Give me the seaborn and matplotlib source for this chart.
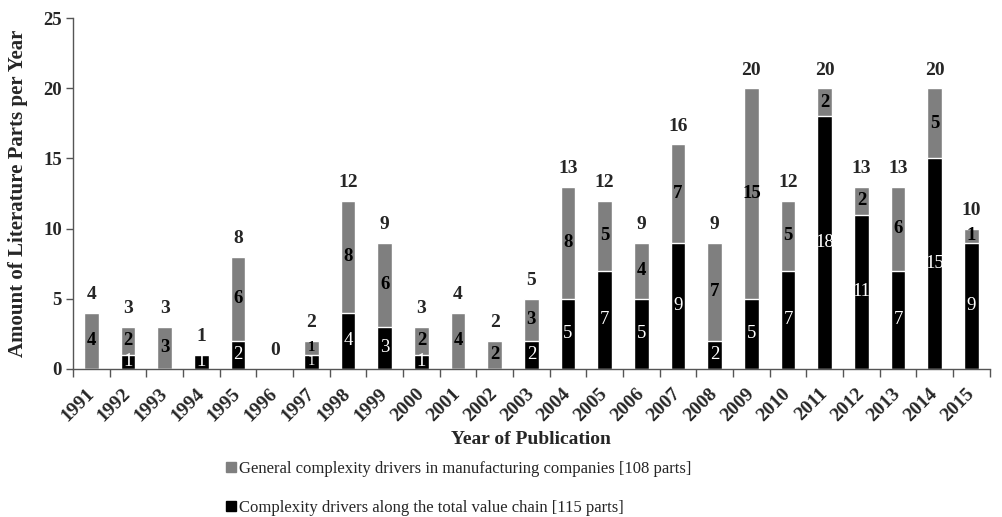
import matplotlib
matplotlib.use("Agg")
import matplotlib.pyplot as plt
import seaborn as sns
import numpy as np
import pandas as pd
from matplotlib.lines import Line2D
from matplotlib.ticker import FixedLocator

years = [str(y) for y in range(1991, 2016)]
value_chain = [0, 1, 0, 1, 2, 0, 1, 4, 3, 1, 0, 0, 2, 5, 7, 5, 9, 2, 5, 7, 18, 11, 7, 15, 9]
general = [4, 2, 3, 0, 6, 0, 1, 8, 6, 2, 4, 2, 3, 8, 5, 4, 7, 7, 15, 5, 2, 2, 6, 5, 1]
label_general = "General complexity drivers in manufacturing companies [108 parts]"
label_chain = "Complexity drivers along the total value chain [115 parts]"

sns.set_theme(style="white")
plt.rcParams['font.family'] = ['Liberation Serif', 'DejaVu Serif']

total = [a + b for a, b in zip(value_chain, general)]
df = pd.DataFrame({"year": years, "chain": value_chain, "general": general, "total": total})

fig = plt.figure(figsize=(10.03, 5.17), dpi=100)
ax = fig.add_axes([0.0728, 0.2863, 0.914, 0.6787])

GRAY = "#7f7f7f"
sns.barplot(data=df, x="year", y="total", color=GRAY, width=0.4, saturation=1, ax=ax)
sns.barplot(data=df, x="year", y="chain", color="black", width=0.4, saturation=1, ax=ax)

ax.set_ylim(0, 25)
ax.set_xlim(-0.5, len(years) - 0.5)
ax.set_yticks([0, 5, 10, 15, 20, 25])
for s in ["top", "right"]:
    ax.spines[s].set_visible(False)
for s in ["left", "bottom"]:
    ax.spines[s].set_color("#555555")
    ax.spines[s].set_linewidth(1.0)

ax.tick_params(axis="y", which="major", length=5, width=1, color="#555555", direction="out", left=True, pad=3)
ax.tick_params(axis="x", which="major", length=0, pad=16)
ax.xaxis.set_minor_locator(FixedLocator(np.arange(-0.5, len(years), 1.0)))
ax.tick_params(axis="x", which="minor", length=6, width=1, color="#555555", direction="out", bottom=True)

for lab in ax.get_xticklabels():
    lab.set_rotation(45)
    lab.set_ha("right")
    lab.set_va("center")
    lab.set_rotation_mode("anchor")
    lab.set_fontweight("bold")
    lab.set_fontsize(14)
for lab in ax.get_yticklabels():
    lab.set_fontweight("bold")
    lab.set_fontsize(13.5)

ax.set_xlabel("Year of Publication", fontsize=14, fontweight="bold", labelpad=4)
ax.set_ylabel("Amount of Literature Parts per Year", fontsize=15, fontweight="bold", labelpad=11)

for i, (c, g, t) in enumerate(zip(value_chain, general, total)):
    tight = (c == 1 and g == 1)
    fs = 10.5 if tight else 13.5
    if c > 0:
        ax.text(i, c / 2, str(c), ha="center", va="center", color="white", fontsize=fs)
    if g > 0:
        ax.text(i, c + g / 2, str(g), ha="center", va="center", color="black", fontsize=fs, fontweight="bold")
    ax.annotate(str(t), (i, t), xytext=(0, 7), textcoords="offset points",
                ha="center", va="bottom", fontsize=14, fontweight="bold")

handles = [Line2D([0], [0], marker="s", color="none", markerfacecolor=GRAY, markeredgecolor=GRAY, markersize=7),
           Line2D([0], [0], marker="s", color="none", markerfacecolor="black", markeredgecolor="black", markersize=7)]
fig.legend(handles, [label_general, label_chain], loc="upper left", bbox_to_anchor=(0.222, 0.108),
           frameon=False, fontsize=12, labelspacing=1.35, handletextpad=0.0, handlelength=1.0,
           borderaxespad=0, borderpad=0)

fig.savefig("out.png", dpi=100)
